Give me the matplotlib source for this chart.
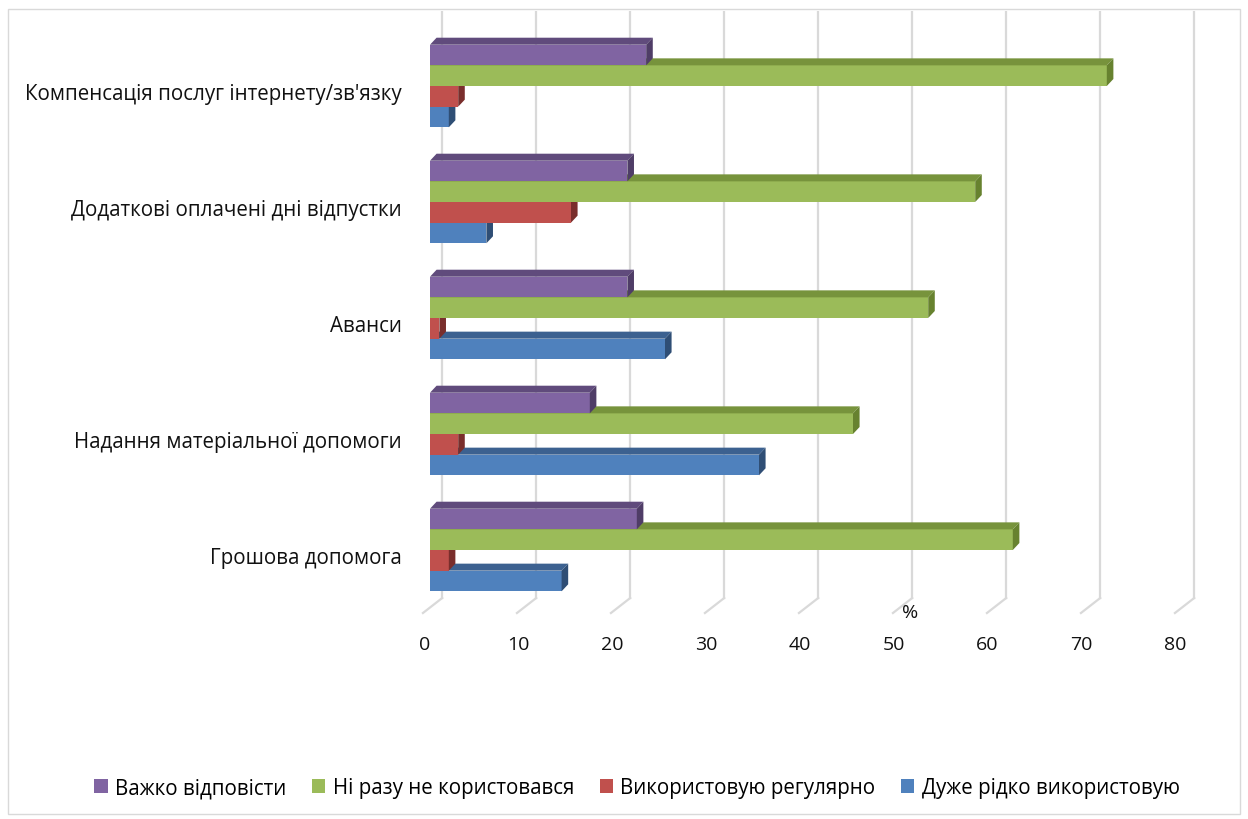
import numpy as np
import matplotlib
matplotlib.use('Agg')
import matplotlib.pyplot as plt
from matplotlib.patches import Polygon, Rectangle, Patch
from matplotlib import font_manager

categories = ['Грошова допомога', 'Надання матеріальної допомоги', 'Аванси',
              'Додаткові оплачені дні відпустки', "Компенсація послуг інтернету/зв'язку"]
rarely = [14, 35, 25, 6, 2]
regular = [2, 3, 1, 15, 3]
never = [62, 45, 53, 58, 72]
hard = [22, 17, 21, 21, 23]
series_names = ['Дуже рідко використовую', 'Використовую регулярно',
                'Ні разу не користовався', 'Важко відповісти']
xticks = [0, 10, 20, 30, 40, 50, 60, 70, 80]

names = {f.name for f in font_manager.fontManager.ttflist}
main_font = 'Open Sans' if 'Open Sans' in names else 'DejaVu Sans'
narrow_font = 'Liberation Sans Narrow' if 'Liberation Sans Narrow' in names else main_font
plt.rcParams['font.family'] = [main_font, 'DejaVu Sans']

# front, top, side colours
colors = [('#4F81BD', '#3C6190', '#2F4E75'),
          ('#C0504D', '#8E3B39', '#7A2E2C'),
          ('#9BBB59', '#77933C', '#67822F'),
          ('#8064A2', '#604B7C', '#4F3D67')]
series = [rarely, regular, never, hard]

W, H = 1248, 820
fig = plt.figure(figsize=(W / 100, H / 100), dpi=100)

px_per_unit = 9.4
x0_px = 430
ax_l, ax_r = 420, 1215
cat_px = 116.0
c0_px = 551
ax_top, ax_bot = 12, 620

ax = fig.add_axes([ax_l / W, 1 - ax_bot / H, (ax_r - ax_l) / W, (ax_bot - ax_top) / H])
ax.set_xlim((ax_l - x0_px) / px_per_unit, (ax_r - x0_px) / px_per_unit)
ax.set_ylim((c0_px - ax_bot) / cat_px, (c0_px - ax_top) / cat_px)
ax.axis('off')

floor_back = (c0_px - 599) / cat_px
floor_front = (c0_px - 614) / cat_px
back_off = 1.3
front_off = -0.75
for v in xticks:
    ax.plot([v + back_off, v + back_off], [floor_back, 10], color='#D9D9D9', lw=1.6, zorder=1)
    ax.plot([v + front_off, v + back_off], [floor_front, floor_back], color='#D9D9D9', lw=1.6, zorder=1)
    ax.text(v * 0.997 - 0.53, (c0_px - 645) / cat_px, str(v), ha='center', va='center',
            fontsize=14, color='#111111', clip_on=False)

ax.text((910 - x0_px) / px_per_unit, (c0_px - 613) / cat_px, '%', ha='center', va='center',
        fontsize=14, color='#111111')

h = 0.178
dx = 0.7
dy = 7 / cat_px
y = np.arange(len(categories))
for k, (vals, (cf, ct, cs)) in enumerate(zip(series, colors)):
    yc = y + (k - 1.5) * h
    ax.barh(yc, vals, height=h, color=cf, zorder=3 + k, edgecolor='none')
    for yy, v in zip(yc, vals):
        top = yy + h / 2
        bot = yy - h / 2
        ax.add_patch(Polygon([(0, top), (v, top), (v + dx, top + dy), (dx, top + dy)],
                             closed=True, facecolor=ct, edgecolor='none', zorder=3 + k))
        ax.add_patch(Polygon([(v, bot), (v, top), (v + dx, top + dy), (v + dx, bot + dy)],
                             closed=True, facecolor=cs, edgecolor='none', zorder=3 + k))

for i, c in enumerate(categories):
    ax.text((402 - x0_px) / px_per_unit, i - 0.065, c, ha='right', va='center',
            fontsize=14.8, color='#111111', clip_on=False)

handles = [Patch(facecolor=colors[k][0], label=series_names[k]) for k in [3, 2, 1, 0]]
fig.legend(handles=handles, loc='center', bbox_to_anchor=(637 / W, 1 - 789 / H), ncol=4,
           frameon=False, handlelength=0.65, handleheight=0.65, handletextpad=0.35,
           columnspacing=1.25, prop={'family': [narrow_font, 'DejaVu Sans'], 'size': 14.8})

fig.patches.append(Rectangle((8 / W, 1 - 815 / H), 1232 / W, 805 / H, transform=fig.transFigure,
                             fill=False, edgecolor='#D9D9D9', lw=1))

fig.savefig('out.png', dpi=100)
